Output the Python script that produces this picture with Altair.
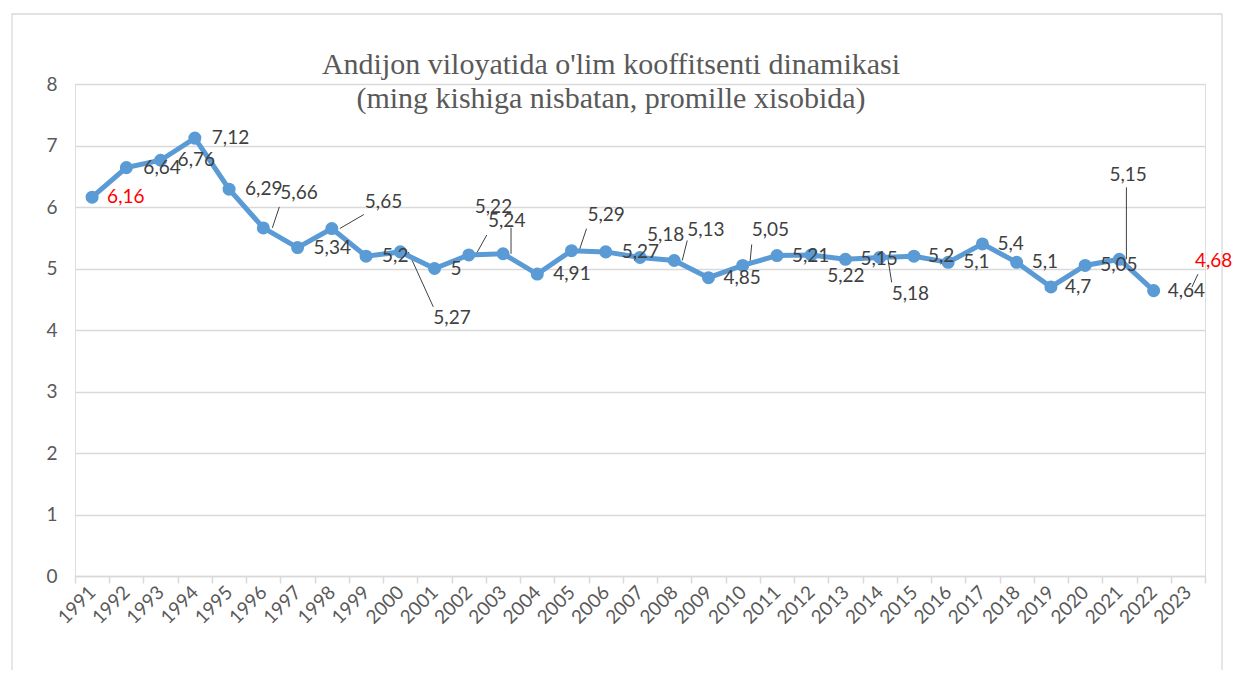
import altair as alt
import pandas as pd

# ---------------- data ----------------
YEARS = list(range(1991, 2024))
VALUES = [6.16, 6.64, 6.76, 7.12, 6.29, 5.66, 5.34, 5.65, 5.2, 5.27, 5.0,
          5.22, 5.24, 4.91, 5.29, 5.27, 5.18, 5.13, 4.85, 5.05, 5.21, 5.22,
          5.15, 5.18, 5.2, 5.1, 5.4, 5.1, 4.7, 5.05, 5.15, 4.64, 4.68]
MARKER_YEARS_END = 2022          # 2023 is shown only as a data label
RED_LABEL_YEARS = [1991, 2023]
TITLE_LINES = ["Andijon viloyatida o'lim kooffitsenti dinamikasi",
               "(ming kishiga nisbatan, promille xisobida)"]
Y_TICKS = list(range(0, 9))

# ---------------- layout ----------------
W, H = 1130, 492
STEP = W / len(YEARS)        # px per category
UNIT = H / 8                 # px per y unit

# label offsets (px) from the point: (dx to left edge, dy to middle)
LABEL_OFFSETS = {
    1991: (15, 0), 1992: (17, 0), 1993: (17, 0), 1994: (17, 0), 1995: (16, 0),
    1996: (17, -35), 1997: (16, 0), 1998: (33, -27), 1999: (16, 0),
    2000: (33, 66), 2001: (16, 0), 2002: (6, -48), 2003: (-15, -33),
    2004: (16, 0), 2005: (16, -36), 2006: (16, 0), 2007: (7, -22),
    2008: (13, -31), 2009: (15, 0), 2010: (9, -35), 2011: (15, 0),
    2012: (16, 21), 2013: (15, 0), 2014: (12, 37), 2015: (14, 0),
    2016: (15, 0), 2017: (15, 0), 2018: (15, 0), 2019: (14, 0),
    2020: (15, 0), 2021: (-10, -84), 2022: (14, 0), 2023: (7, -27),
}
# leader lines (px offsets from the point): start (sx, sy) -> end (ex, ey)
LEADERS = {
    1996: (9, 0, 16, -21), 1998: (8, 0, 32, -14), 2000: (8, 0, 33, 55),
    2002: (8, -2, 18, -20), 2003: (8, 0, 8, -26), 2005: (8, -1, 15, -22),
    2008: (8, 0, 13, -20), 2010: (7, 0, 9, -21), 2014: (8, 0, 12, 25),
    2021: (7, 0, 7, -72), 2023: (4, -1, 10, -14),
}


def fmt(v):
    return f"{v:g}".replace(".", ",")


df_line = pd.DataFrame({"year": YEARS, "value": VALUES})
df_line = df_line[df_line["year"] <= MARKER_YEARS_END]

lab_rows = []
for yr, v in zip(YEARS, VALUES):
    dx, dy = LABEL_OFFSETS[yr]
    lab_rows.append({
        "lx": yr + dx / STEP,
        "ly": v - dy / UNIT,
        "label": fmt(v),
        "color": "#FF0000" if yr in RED_LABEL_YEARS else "#404040",
    })
df_labels = pd.DataFrame(lab_rows)

lead_rows = []
for yr, v in zip(YEARS, VALUES):
    if yr in LEADERS:
        sx, sy, ex, ey = LEADERS[yr]
        lead_rows.append({"x1": yr + sx / STEP, "y1": v - sy / UNIT,
                          "x2": yr + ex / STEP, "y2": v - ey / UNIT})
df_lead = pd.DataFrame(lead_rows)

# ---------------- scales & axes ----------------
x_vals = [YEARS[0] - 0.5] + [y + d for y in YEARS for d in (0, 0.5)]
xs = alt.Scale(domain=[YEARS[0] - 0.5, YEARS[-1] + 0.5], nice=False, zero=False)
ys = alt.Scale(domain=[0, 8], nice=False, zero=True)

x_axis = alt.Axis(
    values=x_vals,
    labelExpr="datum.value % 1 === 0 ? toString(datum.value) : ''",
    labelAngle=-45, labelAlign="right", labelBaseline="middle",
    labelFont="Lato", labelFontSize=19, labelColor="#595959",
    labelPadding=6, labelOverlap=False, labelFlush=False, labelBound=False,
    tickOpacity={"condition": {"test": "datum.value % 1 !== 0", "value": 1}, "value": 0},
    tickColor="#d9d9d9", tickWidth=1.5, tickSize=7,
    domainColor="#d9d9d9", domainWidth=1.5, grid=False, title=None,
)
y_axis = alt.Axis(
    values=Y_TICKS, domain=False, ticks=False, grid=True,
    gridColor="#d9d9d9", gridWidth=1.3,
    labelFont="Lato", labelFontSize=19, labelColor="#595959",
    labelPadding=18, title=None,
)

BLUE = "#5B9BD5"

frame = alt.Chart(pd.DataFrame({"a": [0]})).mark_rect(
    fill=None, stroke="#d9d9d9", strokeWidth=1.3
).encode(x=alt.value(-63), x2=alt.value(W + 17), y=alt.value(-70), y2=alt.value(H + 130))

leaders = alt.Chart(df_lead).mark_rule(color="#404040", strokeWidth=1).encode(
    x=alt.X("x1:Q", scale=xs, axis=x_axis),
    y=alt.Y("y1:Q", scale=ys, axis=y_axis),
    x2="x2:Q", y2="y2:Q",
)

line = alt.Chart(df_line).mark_line(color=BLUE, strokeWidth=5).encode(
    x=alt.X("year:Q", scale=xs, axis=x_axis),
    y=alt.Y("value:Q", scale=ys, axis=y_axis),
)
points = alt.Chart(df_line).mark_circle(color=BLUE, size=170, opacity=1).encode(
    x=alt.X("year:Q", scale=xs, axis=x_axis),
    y=alt.Y("value:Q", scale=ys, axis=y_axis),
)
labels = alt.Chart(df_labels).mark_text(
    align="left", baseline="middle", font="Lato", fontSize=19
).encode(
    x=alt.X("lx:Q", scale=xs, axis=x_axis),
    y=alt.Y("ly:Q", scale=ys, axis=y_axis),
    text="label:N",
    color=alt.Color("color:N", scale=None),
)

chart = alt.layer(frame, leaders, line, points, labels).properties(
    width=W, height=H,
    autosize=alt.AutoSizeParams(type="none"),
    padding={"left": 67, "top": 76, "right": 28, "bottom": 94},
    title=alt.TitleParams(
        text=TITLE_LINES, font="Liberation Serif", fontSize=30,
        fontWeight="normal", color="#595959", anchor="middle",
        dx=-29, offset=-101, lineHeight=34,
    ),
).configure_view(stroke=None).configure(background="white")

chart.save("out.html", embed_options={"renderer": "svg", "actions": False})
